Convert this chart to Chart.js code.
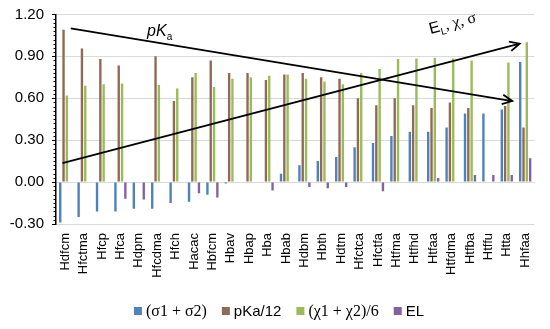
<!DOCTYPE html>
<html>
<head>
<meta charset="utf-8">
<script src="https://cdn.jsdelivr.net/npm/chart.js@4/dist/chart.umd.min.js"></script>
<style>
html, body { margin: 0; padding: 0; background: #fff; }
#wrap { width: 550px; height: 329px; position: relative; }
</style>
</head>
<body>
<div id="wrap"><canvas id="chart"></canvas></div>
<script>
var categories = ["Hdfcm", "Hfctma", "Hfcp", "Hfca", "Hdpm", "Hfcdma", "Hfch", "Hacac", "Hbfcm", "Hbav",
                  "Hbap", "Hba", "Hbab", "Hdbm", "Hbth", "Hdtm", "Hfctca", "Hfctfa", "Htfma", "Htfhd",
                  "Htfaa", "Htfdma", "Htfba", "Htffu", "Htta", "Hhfaa"];
var sigmaSum = [-0.29, -0.25, -0.21, -0.21, -0.19, -0.19, -0.15, -0.14, -0.09, -0.01,
                0, 0, 0.06, 0.12, 0.15, 0.18, 0.25, 0.28, 0.33, 0.36,
                0.36, 0.39, 0.49, 0.49, 0.52, 0.86];
var pKa12 = [1.09, 0.955, 0.88, 0.835, null, 0.90, 0.58, 0.75, 0.87, 0.78,
             0.78, 0.73, 0.77, 0.78, 0.75, 0.74, 0.60, 0.55, 0.60, 0.55,
             0.53, 0.57, 0.53, null, 0.545, 0.39];
var chiSum6 = [0.62, 0.69, 0.70, 0.705, null, 0.695, 0.67, 0.78, 0.68, 0.74,
               0.75, 0.76, 0.77, 0.74, 0.72, 0.70, 0.78, 0.81, 0.88, 0.885,
               0.89, 0.885, 0.87, null, 0.855, 1.00];
var elValues = [0, 0, 0, -0.12, -0.125, 0, 0, -0.08, -0.11, 0,
                0, -0.06, 0, -0.035, -0.045, -0.035, 0, -0.065, 0, 0,
                0.03, 0, 0.05, 0.05, 0.05, 0.17];
var seriesNames = ["(σ1 + σ2)", "pKa/12", "(χ1 + χ2)/6", "EL"];
var seriesColors = ["#4F81BD", "#8E6B55", "#9BBB59", "#8064A2"];
var legendFonts = ['16px "Liberation Serif"', '15px "Liberation Sans"', '16px "Liberation Serif"', '15px "Liberation Sans"'];

// trend arrows, in (category index, value)
var pKaArrow = { from: [0.3, 1.10], to: [24.3, 0.58] };
var propArrow = { from: [-0.15, 0.135], to: [24.7, 0.99] };

function drawArrow(ctx, x1, y1, x2, y2) {
    var ang = Math.atan2(y2 - y1, x2 - x1);
    var len = 11, spread = 0.45;
    ctx.beginPath();
    ctx.moveTo(x1, y1);
    ctx.lineTo(x2, y2);
    ctx.moveTo(x2 - len * Math.cos(ang - spread), y2 - len * Math.sin(ang - spread));
    ctx.lineTo(x2, y2);
    ctx.lineTo(x2 - len * Math.cos(ang + spread), y2 - len * Math.sin(ang + spread));
    ctx.stroke();
}

var extras = {
    id: 'extras',
    afterDatasetsDraw: function(chart) {
        var ctx = chart.ctx, xs = chart.scales.x, ys = chart.scales.y;
        var left = chart.chartArea.left;
        ctx.save();
        // minor ticks on the value axis
        ctx.strokeStyle = '#000';
        ctx.lineWidth = 1;
        for (var i = 0; i <= 50; i++) {
            var py = Math.round(ys.getPixelForValue(-0.3 + i * 0.03)) + 0.5;
            ctx.beginPath();
            ctx.moveTo(left - 2.5, py);
            ctx.lineTo(left, py);
            ctx.stroke();
        }
        // arrows
        ctx.lineWidth = 1.8;
        [pKaArrow, propArrow].forEach(function(a) {
            drawArrow(ctx,
                xs.getPixelForValue(a.from[0]), ys.getPixelForValue(a.from[1]),
                xs.getPixelForValue(a.to[0]), ys.getPixelForValue(a.to[1]));
        });
        // pKa label
        ctx.fillStyle = '#000';
        ctx.textBaseline = 'alphabetic';
        var tx = xs.getPixelForValue(4.45), ty = ys.getPixelForValue(1.045);
        ctx.font = 'italic 16px "Liberation Sans"';
        ctx.fillText('pK', tx, ty);
        var w = ctx.measureText('pK').width;
        ctx.font = '10px "Liberation Sans"';
        ctx.fillText('a', tx + w, ty + 4);
        // E_L, chi, sigma label (rotated)
        ctx.translate(xs.getPixelForValue(19.85), ys.getPixelForValue(1.06));
        ctx.rotate(-0.255);
        ctx.font = '16px "Liberation Sans"';
        ctx.fillText('E', 0, 0);
        var x0 = ctx.measureText('E').width;
        ctx.font = '10px "Liberation Sans"';
        ctx.fillText('L', x0, 4);
        x0 += ctx.measureText('L').width;
        ctx.font = '16px "Liberation Serif"';
        ctx.fillText(', χ, σ', x0, 0);
        ctx.restore();
    },
    afterDraw: function(chart) {
        var ctx = chart.ctx;
        ctx.save();
        var box = 8, gapBox = 4, gapItem = 15;
        var widths = seriesNames.map(function(n, i) {
            ctx.font = legendFonts[i];
            return box + gapBox + ctx.measureText(n).width;
        });
        var total = widths.reduce(function(s, v) { return s + v; }, 0) + gapItem * (widths.length - 1);
        var x = (chart.width - total) / 2 + 4;
        var y = 311;
        ctx.textBaseline = 'middle';
        seriesNames.forEach(function(n, i) {
            ctx.fillStyle = seriesColors[i];
            ctx.fillRect(x, y - box / 2, box, box);
            ctx.fillStyle = '#000';
            ctx.font = legendFonts[i];
            ctx.fillText(n, x + box + gapBox, y + 1);
            x += widths[i] + gapItem;
        });
        ctx.restore();
    }
};

var datasets = [sigmaSum, pKa12, chiSum6, elValues].map(function(vals, i) {
    return {
        label: seriesNames[i],
        data: vals,
        backgroundColor: seriesColors[i],
        categoryPercentage: 0.72,
        barPercentage: 0.72
    };
});

new Chart(document.getElementById('chart'), {
    type: 'bar',
    data: { labels: categories, datasets: datasets },
    options: {
        responsive: true,
        maintainAspectRatio: false,
        animation: false,
        layout: { padding: { top: 3, right: 12, bottom: 27, left: 0 } },
        plugins: { legend: { display: false }, tooltip: { enabled: false } },
        scales: {
            x: {
                grid: { display: false, drawTicks: false },
                border: { display: false },
                ticks: {
                    autoSkip: false, maxRotation: 90, minRotation: 90,
                    font: { size: 13, family: '"Liberation Sans"' }, color: '#000', padding: 9
                },
                afterFit: function(s) { s.height = 78; }
            },
            y: {
                min: -0.3, max: 1.2,
                ticks: {
                    stepSize: 0.3,
                    callback: function(v) { return v.toFixed(2); },
                    font: { size: 15, family: '"Liberation Sans"', lineHeight: 0.85 }, color: '#000', padding: 8
                },
                grid: { color: '#d9d9d9', lineWidth: 1, tickColor: '#000', tickLength: 4 },
                border: { color: '#000', width: 1.5 },
                afterFit: function(s) { s.width = 56; }
            }
        }
    },
    plugins: [extras]
});
</script>
</body>
</html>
